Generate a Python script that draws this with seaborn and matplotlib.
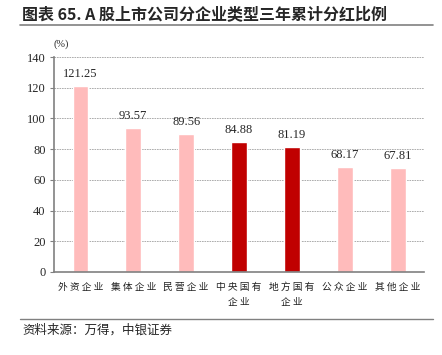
import matplotlib
matplotlib.use("Agg")
import matplotlib.pyplot as plt
import seaborn as sns
import pandas as pd
from matplotlib.lines import Line2D

categories = ["外资企业", "集体企业", "民营企业", "中央国有企业", "地方国有企业", "公众企业", "其他企业"]
tick_labels = ["外 资 企 业", "集 体 企 业", "民 营 企 业", "中 央 国 有\n企 业", "地 方 国 有\n企 业", "公 众 企 业", "其 他 企 业"]
values = [121.25, 93.57, 89.56, 84.88, 81.19, 68.17, 67.81]
colors = ["#FFBBBB", "#FFBBBB", "#FFBBBB", "#C00000", "#C00000", "#FFBBBB", "#FFBBBB"]

sns.set_style("white")
plt.rcParams['font.family'] = ['Liberation Serif', 'Noto Sans CJK SC', 'DejaVu Sans']

df = pd.DataFrame({"cat": categories, "val": values})

fig = plt.figure(figsize=(4.42, 3.55), dpi=100)
ax = fig.add_axes([54/442, 1-272/355, (424-54)/442, (272-57)/355])

sns.barplot(data=df, x="cat", y="val", hue="cat", palette=colors, legend=False,
            width=0.3, ax=ax, saturation=1)

ax.set_ylim(0, 140)
ax.set_xlim(-0.5, 6.5)
ax.set_yticks(range(0, 141, 20))
ax.yaxis.grid(True, linestyle=(0, (2, 1)), color="#a0a0a0", linewidth=0.6)
ax.set_axisbelow(True)
ax.set_xlabel("")
ax.set_ylabel("")

for s in ["top", "right"]:
    ax.spines[s].set_visible(False)
for s in ["left", "bottom"]:
    ax.spines[s].set_color("#808080")
    ax.spines[s].set_linewidth(1.2)

ax.tick_params(axis="y", which="major", direction="out", length=3, color="#808080",
               labelsize=9, pad=3, left=True)
ax.set_xticks(range(len(categories)))
ax.set_xticklabels(tick_labels, family=['Noto Sans CJK SC'], fontsize=7, linespacing=1.6,
                   color="#222222")
ax.tick_params(axis="x", which="major", length=0, pad=7)
ax.set_xticks([i - 0.5 for i in range(len(categories) + 1)], minor=True)
ax.tick_params(axis="x", which="minor", direction="out", length=3, color="#808080", width=1)
for lab in ax.get_xticklabels():
    lab.set_verticalalignment("top")

for i, v in enumerate(values):
    ax.text(i, v + 4, f"{v:.2f}", ha="center", va="bottom", fontsize=9)

ax.text(0.0, 1.035, "(%)", transform=ax.transAxes, fontsize=7.5, ha="left", va="bottom")

fig.text(22/442, 1-14/355, "图表 65. A 股上市公司分企业类型三年累计分红比例",
         fontsize=11.5, fontweight="bold", ha="left", va="center",
         family=['Noto Sans CJK SC', 'DejaVu Sans'])
fig.add_artist(Line2D([20/442, 433/442], [1-25/355, 1-25/355], color="#808080", linewidth=1.2))
fig.add_artist(Line2D([20/442, 433/442], [1-319/355, 1-319/355], color="#808080", linewidth=1.0))
fig.text(22/442, 1-330/355, "资料来源：万得，中银证券", fontsize=9, style="italic",
         ha="left", va="center", family=['Noto Sans CJK SC', 'DejaVu Sans'])

fig.savefig("out.png", dpi=100)
